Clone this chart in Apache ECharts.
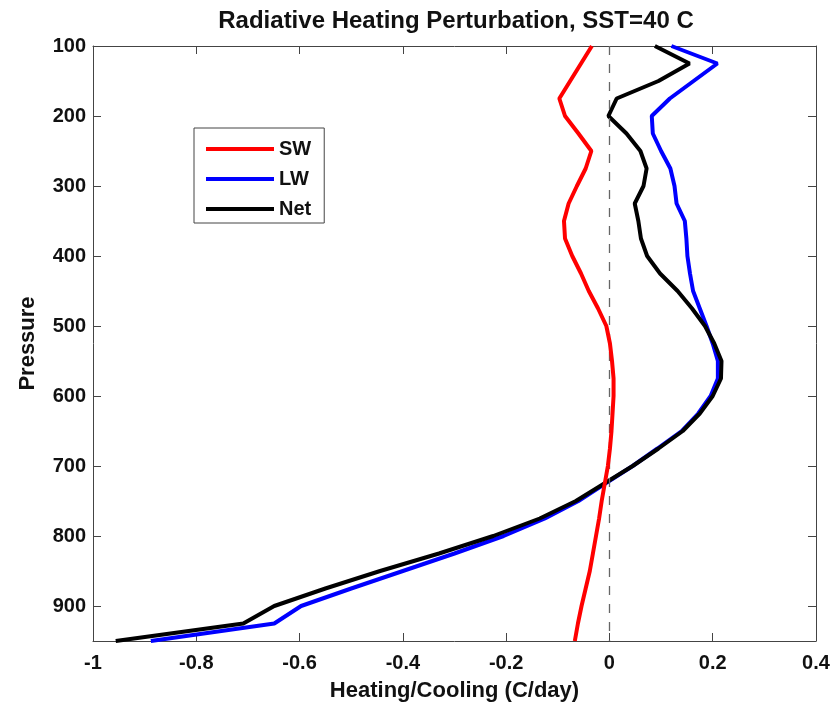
<!DOCTYPE html>
<html>
<head>
<meta charset="utf-8">
<script src="https://cdn.jsdelivr.net/npm/echarts@6/dist/echarts.min.js"></script>
<style>
  html, body { margin: 0; padding: 0; background: #fff; }
  #chart { width: 840px; height: 704px; }
</style>
</head>
<body>
<div id="chart"></div>
<script>
// Pressure levels (hPa), top of the profile first
const pressure = [100, 125, 150, 175, 200, 225, 250, 275, 300, 325, 350, 375, 400,
  425, 450, 475, 500, 525, 550, 575, 600, 625, 650, 675, 700, 725, 750, 775, 800,
  825, 850, 875, 900, 925, 950];

// Heating rate perturbations (C/day) at each level
const sw = [-0.034, -0.055, -0.076, -0.097, -0.086, -0.060, -0.035, -0.046, -0.063,
  -0.079, -0.088, -0.086, -0.072, -0.055, -0.040, -0.022, -0.006, 0.001, 0.005,
  0.008, 0.008, 0.006, 0.004, 0.001, -0.003, -0.009, -0.015, -0.020, -0.026,
  -0.032, -0.038, -0.046, -0.054, -0.061, -0.067];
const lw = [0.120, 0.209, 0.163, 0.117, 0.082, 0.084, 0.100, 0.118, 0.126, 0.130,
  0.146, 0.149, 0.151, 0.156, 0.162, 0.175, 0.188, 0.200, 0.210, 0.210, 0.196,
  0.172, 0.140, 0.093, 0.045, -0.008, -0.060, -0.125, -0.205, -0.300, -0.400,
  -0.500, -0.597, -0.649, -0.888];
const net = [0.088, 0.155, 0.095, 0.014, -0.002, 0.033, 0.060, 0.072, 0.066, 0.049,
  0.056, 0.061, 0.073, 0.098, 0.132, 0.160, 0.185, 0.203, 0.217, 0.216, 0.200,
  0.175, 0.142, 0.095, 0.045, -0.010, -0.065, -0.135, -0.225, -0.330, -0.444,
  -0.550, -0.649, -0.709, -0.956];

const seriesNames = ['SW', 'LW', 'Net'];
const xTicks = { min: -1, max: 0.4, step: 0.2 };
const yTicks = { min: 100, max: 950, step: 100 };

const FONT = '"Liberation Sans", Arial, sans-serif';
const AXIS_COLOR = '#444';

const pairs = vals => vals.map((v, i) => [v, pressure[i]]);

const chart = echarts.init(document.getElementById('chart'), null, { renderer: 'canvas' });

const tickStyle = { show: true, inside: true, length: 8, lineStyle: { color: AXIS_COLOR, width: 1 } };

const option = {
  backgroundColor: '#fff',
  animation: false,
  title: {
    text: 'Radiative Heating Perturbation, SST=40 C',
    left: 451, top: 4, textAlign: 'center',
    textStyle: { fontFamily: FONT, fontWeight: 'bold', fontSize: 24, color: '#111' }
  },
  grid: { left: 93, right: 24, top: 46, bottom: 63, show: false, containLabel: false, outerBoundsMode: 'none' },
  legend: {
    data: seriesNames,
    orient: 'vertical',
    left: 194, top: 128,
    icon: 'rect',
    itemWidth: 68, itemHeight: 4,
    itemGap: 8,
    padding: [10, 13, 3, 12],
    backgroundColor: '#fff',
    borderColor: AXIS_COLOR, borderWidth: 1,
    textStyle: { fontFamily: FONT, fontWeight: 'bold', fontSize: 20, color: '#111', lineHeight: 22, padding: [0, 0, 0, 0] },
    selectedMode: false
  },
  xAxis: [
    {
      type: 'value', min: xTicks.min, max: xTicks.max, interval: xTicks.step,
      position: 'bottom',
      name: 'Heating/Cooling (C/day)', nameLocation: 'middle', nameGap: 39,
      nameTextStyle: { fontFamily: FONT, fontWeight: 'bold', fontSize: 22, color: '#111' },
      axisLine: { show: true, onZero: false, lineStyle: { color: AXIS_COLOR, width: 1 } },
      axisTick: tickStyle,
      axisLabel: { margin: 12, fontFamily: FONT, fontWeight: 'bold', fontSize: 20, color: '#111' },
      splitLine: { show: false }
    },
    {
      type: 'value', min: xTicks.min, max: xTicks.max, interval: xTicks.step,
      position: 'top',
      axisLine: { show: true, onZero: false, lineStyle: { color: AXIS_COLOR, width: 1 } },
      axisTick: tickStyle,
      axisLabel: { show: false },
      splitLine: { show: false }
    }
  ],
  yAxis: [
    {
      type: 'value', inverse: true, min: yTicks.min, max: yTicks.max, interval: yTicks.step,
      position: 'left',
      name: 'Pressure', nameLocation: 'middle', nameGap: 54, nameRotate: 90,
      nameTextStyle: { fontFamily: FONT, fontWeight: 'bold', fontSize: 22, color: '#111' },
      axisLine: { show: true, onZero: false, lineStyle: { color: AXIS_COLOR, width: 1 } },
      axisTick: tickStyle,
      axisLabel: { margin: 7, showMaxLabel: false, fontFamily: FONT, fontWeight: 'bold', fontSize: 20, color: '#111' },
      splitLine: { show: false }
    },
    {
      type: 'value', inverse: true, min: yTicks.min, max: yTicks.max, interval: yTicks.step,
      position: 'right',
      axisLine: { show: true, onZero: false, lineStyle: { color: AXIS_COLOR, width: 1 } },
      axisTick: tickStyle,
      axisLabel: { show: false },
      splitLine: { show: false }
    }
  ],
  series: [
    {
      name: 'SW', type: 'line', data: pairs(sw), z: 5,
      showSymbol: false, symbol: 'none',
      lineStyle: { color: '#ff0000', width: 4 }, itemStyle: { color: '#ff0000' },
      markLine: {
        silent: true, symbol: 'none', label: { show: false },
        lineStyle: { color: '#666', width: 1.3, type: [9, 9] },
        data: [{ xAxis: 0 }]
      }
    },
    {
      name: 'LW', type: 'line', data: pairs(lw), z: 3,
      showSymbol: false, symbol: 'none',
      lineStyle: { color: '#0000ff', width: 4 }, itemStyle: { color: '#0000ff' }
    },
    {
      name: 'Net', type: 'line', data: pairs(net), z: 4,
      showSymbol: false, symbol: 'none',
      lineStyle: { color: '#000000', width: 4 }, itemStyle: { color: '#000000' }
    }
  ]
};

chart.setOption(option);
</script>
</body>
</html>
